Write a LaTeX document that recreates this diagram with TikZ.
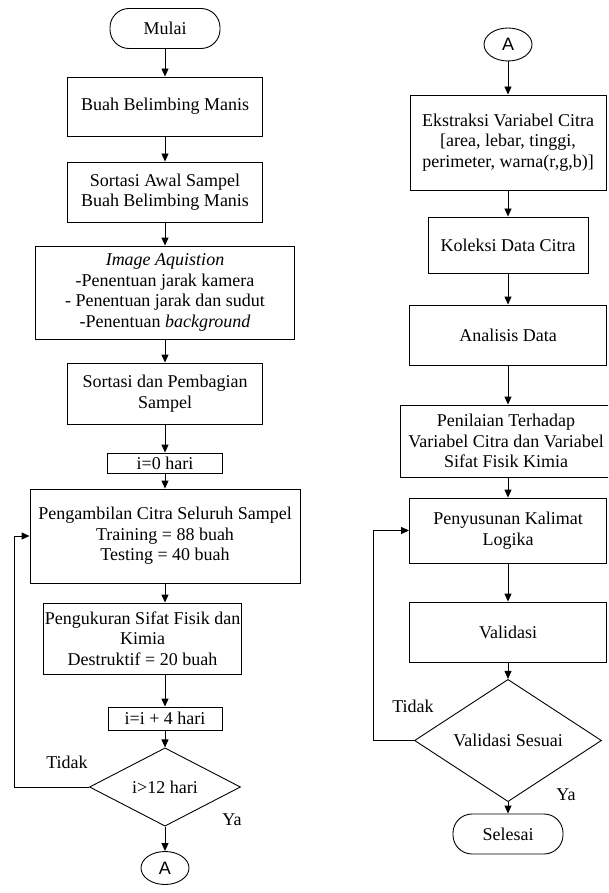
\documentclass[tikz,border=0pt]{standalone}
\usepackage{fontspec}
\setmainfont{Liberation Serif}
\newfontfamily\hurufA{Liberation Sans}
\usetikzlibrary{arrows.meta,shapes.geometric}
\begin{document}
\begin{tikzpicture}[x=1pt,y=-1pt,
  every node/.style={font=\fontsize{18}{20.5}\selectfont},
  kotak/.style={draw,rectangle,align=center,inner sep=1pt,line width=0.9pt},
  ujung/.style={draw,rectangle,rounded corners=19pt,line width=0.9pt,minimum width=110pt,minimum height=40pt},
  putusan/.style={draw,diamond,line width=0.9pt,inner sep=0pt},
  konektor/.style={draw,ellipse,line width=0.9pt,minimum width=48pt,minimum height=33pt,inner sep=0pt,font=\hurufA\fontsize{18}{20}\selectfont},
  panah/.style={-{Triangle[length=8pt,width=7pt]},line width=0.9pt}]
\clip (0,0) rectangle (608,893);
\node[ujung] (mulai) at (165,28.5) {Mulai};
\node[kotak,minimum width=195pt,minimum height=59pt] (buah) at (165,106.5) {Buah Belimbing Manis};
\node[kotak,minimum width=195pt,minimum height=60pt] (sortasi) at (165,192) {Sortasi Awal Sampel\\Buah Belimbing Manis};
\node[kotak,minimum width=259pt,minimum height=93pt] (akuisisi) at (165,292.5) {\textit{Image Aquistion}\\-Penentuan jarak kamera\\- Penentuan jarak dan sudut\\-Penentuan \textit{background}};
\node[kotak,minimum width=195pt,minimum height=61pt] (bagi) at (165,393.5) {Sortasi dan Pembagian\\Sampel};
\node[kotak,minimum width=115pt,minimum height=20pt] (hari0) at (165,463) {i=0 hari};
\node[kotak,minimum width=270pt,minimum height=94pt] (ambil) at (165,536) {Pengambilan Citra Seluruh Sampel\\Training = 88 buah\\Testing = 40 buah};
\node[kotak,minimum width=171pt,minimum height=71pt] (ukur) at (142.5,638.5) {Pengukuran Sifat Fisik dan\\Kimia\\Destruktif = 20 buah};
\node[kotak,minimum width=114pt,minimum height=23pt] (hari4) at (165,718.5) {i=i + 4 hari};
\node[putusan,minimum width=151pt,minimum height=60pt] (cek) at (165,787) {i>12 hari};
\node[konektor] (a1) at (165,868) {A};
\node (tidak1) at (67,762) {Tidak};
\node (ya1) at (232,820) {Ya};
\coordinate (balik1) at (14,787);

\node[konektor] (a2) at (508,44.5) {A};
\node[kotak,minimum width=196pt,minimum height=95pt] (ekstraksi) at (508,142.5) {Ekstraksi Variabel Citra\\{}[area, lebar, tinggi,\\perimeter, warna(r,g,b)]};
\node[kotak,minimum width=160pt,minimum height=56pt] (koleksi) at (508,245) {Koleksi Data Citra};
\node[kotak,minimum width=197pt,minimum height=60pt] (analisis) at (508,335) {Analisis Data};
\node[kotak,minimum width=212pt,minimum height=72pt] (nilai) at (506,441) {Penilaian Terhadap\\Variabel Citra dan Variabel\\Sifat Fisik Kimia};
\node[kotak,minimum width=197pt,minimum height=65pt] (susun) at (508,530.5) {Penyusunan Kalimat\\Logika};
\node[kotak,minimum width=197pt,minimum height=60pt] (validasi) at (508,632) {Validasi};
\node[putusan,minimum width=187pt,minimum height=65pt] (sesuai) at (508,740.5) {Validasi Sesuai};
\node[ujung] (selesai) at (508,834) {Selesai};
\node (tidak2) at (413,706) {Tidak};
\node (ya2) at (566,795) {Ya};
\coordinate (balik2) at (373,740.5);

\draw[panah] (mulai) -- (buah);
\draw[panah] (buah) -- (sortasi);
\draw[panah] (sortasi) -- (akuisisi);
\draw[panah] (akuisisi) -- (bagi);
\draw[panah] (bagi) -- (hari0);
\draw[panah] (hari0) -- (ambil);
\draw[panah] (ambil.south) -- (ambil.south |- ukur.north);
\draw[panah] (hari4.north |- ukur.south) -- (hari4);
\draw[panah] (hari4) -- (cek);
\draw[panah] (cek) -- (a1);
\draw[panah] (cek.west) -- (balik1) |- (ambil.west);

\draw[panah] (a2) -- (ekstraksi);
\draw[panah] (ekstraksi) -- (koleksi);
\draw[panah] (koleksi) -- (analisis);
\draw[panah] (analisis) -- (analisis |- nilai.north);
\draw[panah] (susun |- nilai.south) -- (susun);
\draw[panah] (susun) -- (validasi);
\draw[panah] (validasi) -- (sesuai);
\draw[panah] (sesuai) -- (selesai);
\draw[panah] (sesuai.west) -- (balik2) |- (susun.west);
\end{tikzpicture}
\end{document}
